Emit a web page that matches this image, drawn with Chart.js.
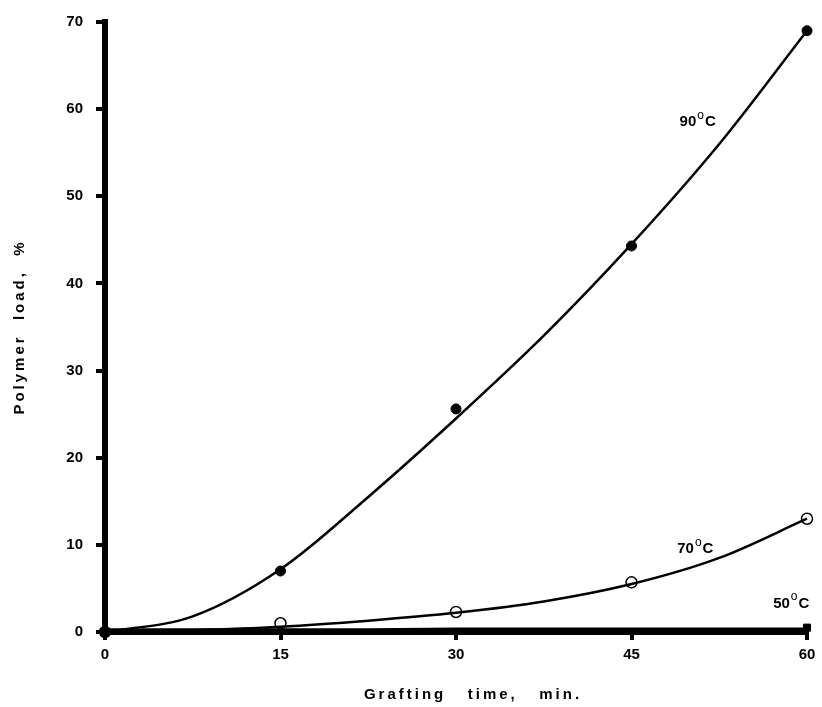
<!DOCTYPE html>
<html>
<head>
<meta charset="utf-8">
<script src="https://cdn.jsdelivr.net/npm/chart.js@4.4.1/dist/chart.umd.min.js"></script>
<style>
  html, body { margin: 0; padding: 0; background: #fff; }
  #wrap { width: 822px; height: 707px; }
</style>
</head>
<body>
<div id="wrap"><canvas id="graftChart" width="822" height="707"></canvas></div>
<script>
// axis ticks
const timeTicks = [0, 15, 30, 45, 60];
const loadTicks = [0, 10, 20, 30, 40, 50, 60, 70];

// measured points
const pointTime = [0, 15, 30, 45, 60];
const points90 = [0, 7.0, 25.6, 44.3, 69.0];
const points70 = [0, 1.0, 2.3, 5.7, 13.0];
const time50 = [0, 60];
const points50 = [0, 0.5];

// fitted curves
const curveTime = [0, 7.5, 15, 22.5, 30, 37.5, 45, 52.5, 60];
const curve90 = [0, 1.8, 7.2, 15.5, 24.5, 34.0, 44.5, 56.0, 69.0];
const curve70 = [0, 0.2, 0.6, 1.3, 2.2, 3.5, 5.5, 8.5, 13.0];
const curve50 = [0.2, 0.2, 0.2, 0.2, 0.3, 0.3, 0.3, 0.3, 0.3];

// curve labels: number, unit, right edge x, middle y (data units)
const curveLabels = [
  ['90', 'C', 52.2, 58.5],
  ['70', 'C', 52.0, 9.5],
  ['50', 'C', 60.2, 3.2]
];

const FONT = "'Liberation Sans', Arial, sans-serif";

function toXY(xs, ys) {
  return xs.map((x, i) => ({ x: x, y: ys[i] }));
}

const textPlugin = {
  id: 'figureText',
  afterDraw(chart) {
    const ctx = chart.ctx;
    const xs = chart.scales.x;
    const ys = chart.scales.y;
    const area = chart.chartArea;
    ctx.save();
    ctx.fillStyle = '#000';

    // curve labels with raised degree sign
    curveLabels.forEach(l => {
      const px = xs.getPixelForValue(l[2]);
      const py = ys.getPixelForValue(l[3]);
      ctx.textBaseline = 'middle';
      ctx.textAlign = 'left';
      ctx.font = 'bold 15px ' + FONT;
      const wNum = ctx.measureText(l[0]).width;
      const wC = ctx.measureText(l[1]).width;
      ctx.font = '12px ' + FONT;
      const wDeg = ctx.measureText('o').width;
      const left = px - (wNum + wDeg + wC + 2);
      ctx.font = 'bold 15px ' + FONT;
      ctx.fillText(l[0], left, py);
      ctx.font = '12px ' + FONT;
      ctx.fillText('o', left + wNum + 1, py - 7);
      ctx.font = 'bold 15px ' + FONT;
      ctx.fillText(l[1], left + wNum + wDeg + 2, py);
    });

    // axis titles with letter spacing
    ctx.font = 'bold 15px ' + FONT;
    ctx.letterSpacing = '3px';
    ctx.textAlign = 'center';
    ctx.textBaseline = 'middle';
    ctx.fillText('Grafting   time,   min.', 473, 695);

    ctx.translate(20, (area.top + area.bottom) / 2);
    ctx.rotate(-Math.PI / 2);
    ctx.fillText('Polymer  load,  %', 0, 0);
    ctx.restore();
  }
};

const ctx = document.getElementById('graftChart').getContext('2d');

new Chart(ctx, {
  type: 'line',
  data: {
    datasets: [
      {
        label: '90 C curve',
        data: toXY(curveTime, curve90),
        borderColor: '#000',
        borderWidth: 2.5,
        pointRadius: 0,
        cubicInterpolationMode: 'monotone',
        fill: false,
        clip: false
      },
      {
        label: '70 C curve',
        data: toXY(curveTime, curve70),
        borderColor: '#000',
        borderWidth: 2.5,
        pointRadius: 0,
        cubicInterpolationMode: 'monotone',
        fill: false,
        clip: false
      },
      {
        label: '50 C curve',
        data: toXY(curveTime, curve50),
        borderColor: '#000',
        borderWidth: 4,
        pointRadius: 0,
        fill: false,
        clip: false
      },
      {
        label: '90 C',
        data: toXY(pointTime, points90),
        showLine: false,
        pointStyle: 'circle',
        pointRadius: 5,
        pointBackgroundColor: '#000',
        pointBorderColor: '#000',
        clip: false
      },
      {
        label: '70 C',
        data: toXY(pointTime, points70),
        showLine: false,
        pointStyle: 'circle',
        pointRadius: 5.5,
        pointBorderWidth: 1.5,
        pointBackgroundColor: 'rgba(0,0,0,0)',
        pointBorderColor: '#000',
        clip: false
      },
      {
        label: '50 C',
        data: toXY(time50, points50),
        showLine: false,
        pointStyle: 'rect',
        pointRadius: 5,
        pointBackgroundColor: '#000',
        pointBorderColor: '#000',
        clip: false
      }
    ]
  },
  options: {
    responsive: false,
    animation: false,
    layout: { padding: { top: 20, right: 15, left: 0, bottom: 0 } },
    plugins: {
      legend: { display: false },
      tooltip: { enabled: false }
    },
    scales: {
      x: {
        type: 'linear',
        min: 0,
        max: 60,
        afterBuildTicks: axis => { axis.ticks = timeTicks.map(v => ({ value: v })); },
        afterFit: axis => { axis.height = 75; },
        border: { display: true, color: '#000', width: 6 },
        grid: { drawOnChartArea: false, drawTicks: true, tickLength: 8, lineWidth: 4, color: '#000' },
        ticks: {
          color: '#000',
          padding: 6,
          maxRotation: 0,
          font: { family: FONT, size: 15, weight: 'bold' }
        }
      },
      y: {
        type: 'linear',
        min: 0,
        max: 70,
        afterBuildTicks: axis => { axis.ticks = loadTicks.map(v => ({ value: v })); },
        afterFit: axis => { axis.width = 105; },
        border: { display: true, color: '#000', width: 6 },
        grid: { drawOnChartArea: false, drawTicks: true, tickLength: 9, lineWidth: 4, color: '#000' },
        ticks: {
          color: '#000',
          padding: 13,
          font: { family: FONT, size: 15, weight: 'bold' }
        }
      }
    }
  },
  plugins: [textPlugin]
});
</script>
</body>
</html>
